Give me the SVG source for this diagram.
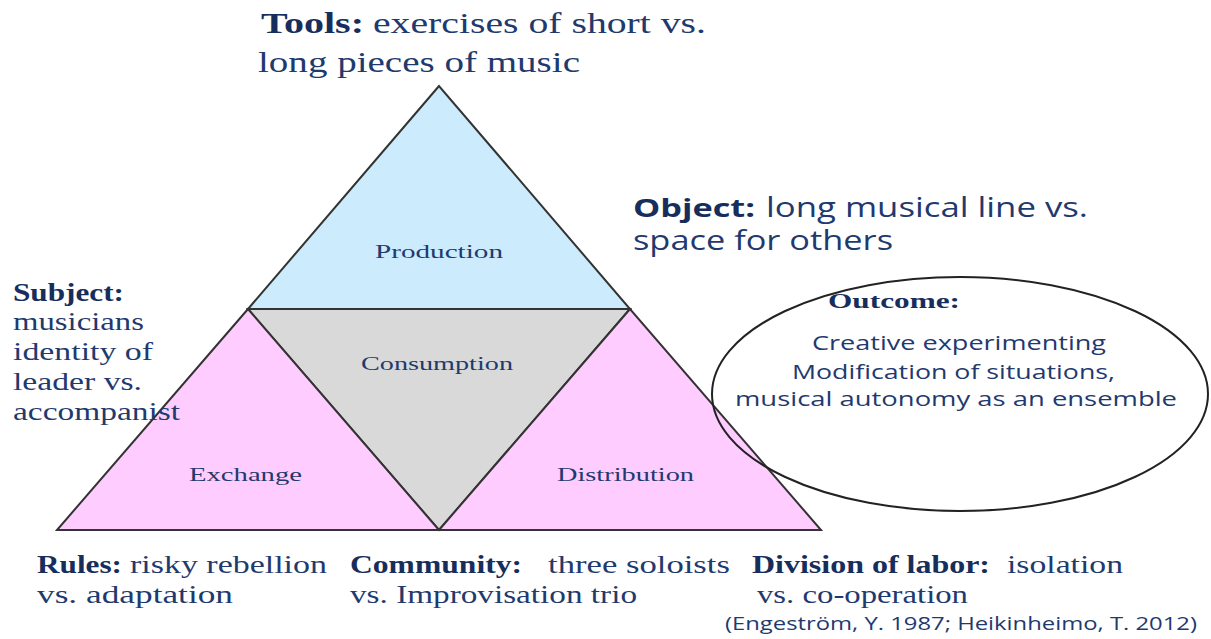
<svg xmlns="http://www.w3.org/2000/svg" width="1211" height="639" viewBox="0 0 1211 639">
<style>
.tri{stroke:#333;stroke-width:2;stroke-linejoin:miter}
.serif{font-family:"Liberation Serif","Times New Roman",serif;fill:#1F3A6E}
.sans{font-family:"Open Sans","Liberation Sans",sans-serif;fill:#1F3A6E}
.b{font-weight:bold;fill:#172E5C}
.lbl{font-size:19px}
</style>
<rect width="1211" height="639" fill="#fff"/>
<g id="production"><polygon class="tri" points="439,86 248,309 630,309" fill="#CCEBFC"/><text class="serif lbl" x="375" y="258" textLength="128" lengthAdjust="spacingAndGlyphs">Production</text></g>
<g id="consumption"><polygon class="tri" points="248,309 630,309 439,530" fill="#D9D9D9"/><text class="serif lbl" x="361" y="370" textLength="152" lengthAdjust="spacingAndGlyphs">Consumption</text></g>
<g id="exchange"><polygon class="tri" points="248,309 57,530 439,530" fill="#FFCCFF"/><text class="serif lbl" x="189" y="481" textLength="113" lengthAdjust="spacingAndGlyphs">Exchange</text></g>
<g id="distribution"><polygon class="tri" points="630,309 439,530 821,530" fill="#FFCCFF"/><text class="serif lbl" x="557" y="481" textLength="137" lengthAdjust="spacingAndGlyphs">Distribution</text></g>
<g id="connectors"></g>
<g id="outcome">
<ellipse cx="960" cy="394" rx="248" ry="117" fill="none" stroke="#222" stroke-width="2"/>
<text class="serif b" font-size="22" x="828" y="308" textLength="132" lengthAdjust="spacingAndGlyphs">Outcome:</text>
<text class="sans" font-size="20" x="812" y="350" textLength="294" lengthAdjust="spacingAndGlyphs">Creative experimenting</text>
<text class="sans" font-size="20" x="792" y="379" textLength="323" lengthAdjust="spacingAndGlyphs">Modification of situations,</text>
<text class="sans" font-size="20" x="735" y="406" textLength="442" lengthAdjust="spacingAndGlyphs">musical autonomy as an ensemble</text>
</g>
<g id="tools">
<text class="serif b" font-size="30" x="261" y="33" textLength="103" lengthAdjust="spacingAndGlyphs">Tools:</text>
<text class="serif" font-size="30" x="373" y="33" textLength="333" lengthAdjust="spacingAndGlyphs">exercises  of short vs.</text>
<text class="serif" font-size="30" x="258" y="72" textLength="322" lengthAdjust="spacingAndGlyphs">long  pieces  of music</text>
</g>
<g id="object">
<text class="sans b" font-size="25" x="633" y="217" textLength="122" lengthAdjust="spacingAndGlyphs">Object:</text>
<text class="sans" font-size="27" x="766" y="217" textLength="322" lengthAdjust="spacingAndGlyphs">long musical line vs.</text>
<text class="sans" font-size="27" x="633" y="250" textLength="260" lengthAdjust="spacingAndGlyphs">space for others</text>
</g>
<g id="subject">
<text class="serif b" font-size="25" x="13" y="301" textLength="111" lengthAdjust="spacingAndGlyphs">Subject:</text>
<text class="serif" font-size="25" x="13" y="330" textLength="131" lengthAdjust="spacingAndGlyphs">musicians</text>
<text class="serif" font-size="25" x="13" y="360" textLength="140" lengthAdjust="spacingAndGlyphs">identity of</text>
<text class="serif" font-size="25" x="13" y="390" textLength="129" lengthAdjust="spacingAndGlyphs">leader vs.</text>
<text class="serif" font-size="25" x="13" y="420" textLength="167" lengthAdjust="spacingAndGlyphs">accompanist</text>
</g>
<g id="rules">
<text class="serif b" font-size="26" x="37" y="573" textLength="85" lengthAdjust="spacingAndGlyphs">Rules:</text>
<text class="serif" font-size="26" x="130" y="573" textLength="197" lengthAdjust="spacingAndGlyphs">risky rebellion</text>
<text class="serif" font-size="26" x="37" y="603" textLength="196" lengthAdjust="spacingAndGlyphs">vs.  adaptation</text>
</g>
<g id="community">
<text class="serif b" font-size="26" x="350" y="573" textLength="172" lengthAdjust="spacingAndGlyphs">Community:</text>
<text class="serif" font-size="26" x="548" y="573" textLength="182" lengthAdjust="spacingAndGlyphs">three soloists</text>
<text class="serif" font-size="26" x="350" y="603" textLength="287" lengthAdjust="spacingAndGlyphs">vs. Improvisation trio</text>
</g>
<g id="division">
<text class="serif b" font-size="26" x="752" y="573" textLength="238" lengthAdjust="spacingAndGlyphs">Division of labor:</text>
<text class="serif" font-size="26" x="1007" y="573" textLength="116" lengthAdjust="spacingAndGlyphs">isolation</text>
<text class="serif" font-size="26" x="757" y="603" textLength="211" lengthAdjust="spacingAndGlyphs">vs. co-operation</text>
</g>
<g id="citation">
<text class="sans" font-size="19" x="725" y="630" textLength="472" lengthAdjust="spacingAndGlyphs">(Engeström, Y. 1987; Heikinheimo, T. 2012)</text>
</g>
</svg>
